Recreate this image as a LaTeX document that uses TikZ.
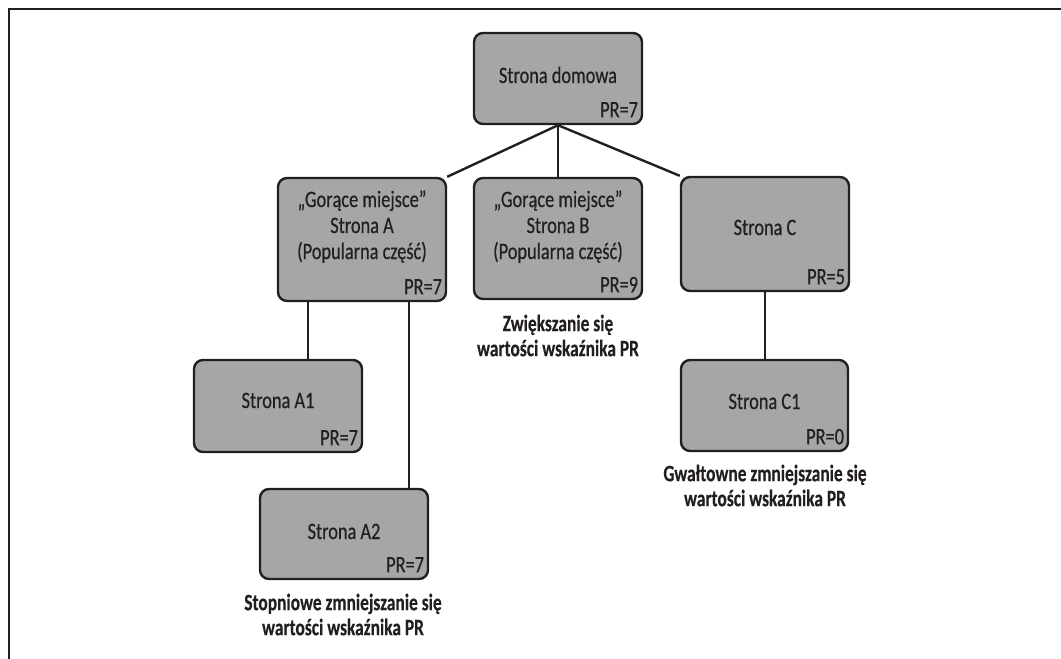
\documentclass[tikz,border=0pt]{standalone}
\usepackage{fontspec}
\setmainfont{Carlito}[FakeStretch=0.78,FakeBold=0.5,BoldFeatures={FakeStretch=0.74,FakeBold=0.3}]
\usetikzlibrary{calc,backgrounds}
\definecolor{boxgray}{RGB}{166,166,166}
\definecolor{ink}{RGB}{35,31,32}
\begin{document}
\begin{tikzpicture}[x=1pt,y=-1pt,
  box/.style={draw=ink, line width=2.4pt, fill=boxgray, rounded corners=9pt, inner sep=0pt},
  txt/.style={text=ink, font=\fontsize{23.5}{26}\selectfont, inner sep=0pt, align=center, anchor=base},
  note/.style={txt, font=\fontsize{23.5}{25}\selectfont\bfseries},
  pr/.style={txt, anchor=base east},
  link/.style={draw=ink, line width=2.4pt}]
\useasboundingbox (0,0) rectangle (1061,659);
\draw[line width=2.4pt, ink] (9,662) -- (9,9) -- (1064,9);

\node[box, minimum width=168, minimum height=91] (home) at (558,78.5) {};
\node[box, minimum width=168, minimum height=123] (A) at (362,239.5) {};
\node[box, minimum width=168, minimum height=121] (B) at (558,238.5) {};
\node[box, minimum width=168, minimum height=114] (C) at (765,234) {};
\node[box, minimum width=168, minimum height=92] (A1) at (278,406) {};
\node[box, minimum width=168, minimum height=90] (A2) at (344,534) {};
\node[box, minimum width=167, minimum height=91] (C1) at (764.5,405.5) {};

\begin{pgfonlayer}{background}
\draw[link] (home.south) -- (A.north east);
\draw[link] (home.south) -- (B.north);
\draw[link] (home.south) -- (C.north west);
\draw[link] ([xshift=-54pt]A.south) -- ([xshift=30pt]A1.north);
\draw[link] ([xshift=47pt]A.south) -- ([xshift=65pt]A2.north);
\draw[link] (C.south) -- (C.south |- C1.north);
\end{pgfonlayer}

\node[txt] (homet) at ($(home.center)+(0,4.5)$) {Strona domowa};
\node[pr] (homepr) at ($(home.south east)+(-5,-8)$) {PR=7};

\node[txt] (At) at ($(A.center)+(0,19.5)$) {„Gorące miejsce”\\Strona A\\(Popularna część)};
\node[pr] (Apr) at ($(A.south east)+(-5,-8)$) {PR=7};

\node[txt] (Bt) at ($(B.center)+(0,20.5)$) {„Gorące miejsce”\\Strona B\\(Popularna część)};
\node[pr] (Bpr) at ($(B.south east)+(-5,-8)$) {PR=9};

\node[txt] (Ct) at ($(C.center)+(0,1)$) {Strona C};
\node[pr] (Cpr) at ($(C.south east)+(-5,-8)$) {PR=5};

\node[txt] (A1t) at ($(A1.center)+(0,2)$) {Strona A1};
\node[pr] (A1pr) at ($(A1.south east)+(-5,-8)$) {PR=7};

\node[txt] (A2t) at ($(A2.center)+(0,5)$) {Strona A2};
\node[pr] (A2pr) at ($(A2.south east)+(-5,-8)$) {PR=7};

\node[txt] (C1t) at ($(C1.center)+(0,3.5)$) {Strona C1};
\node[pr] (C1pr) at ($(C1.south east)+(-5,-8)$) {PR=0};

\node[note] (Bn) at ($(B.south)+(0,56)$) {Zwiększanie się\\wartości wskaźnika PR};
\node[note] (A2n) at ($(A2.south)+(-1,55)$) {Stopniowe zmniejszanie się\\wartości wskaźnika PR};
\node[note] (C1n) at ($(C1.south)+(0.5,54)$) {Gwałtowne zmniejszanie się\\wartości wskaźnika PR};
\end{tikzpicture}
\end{document}
